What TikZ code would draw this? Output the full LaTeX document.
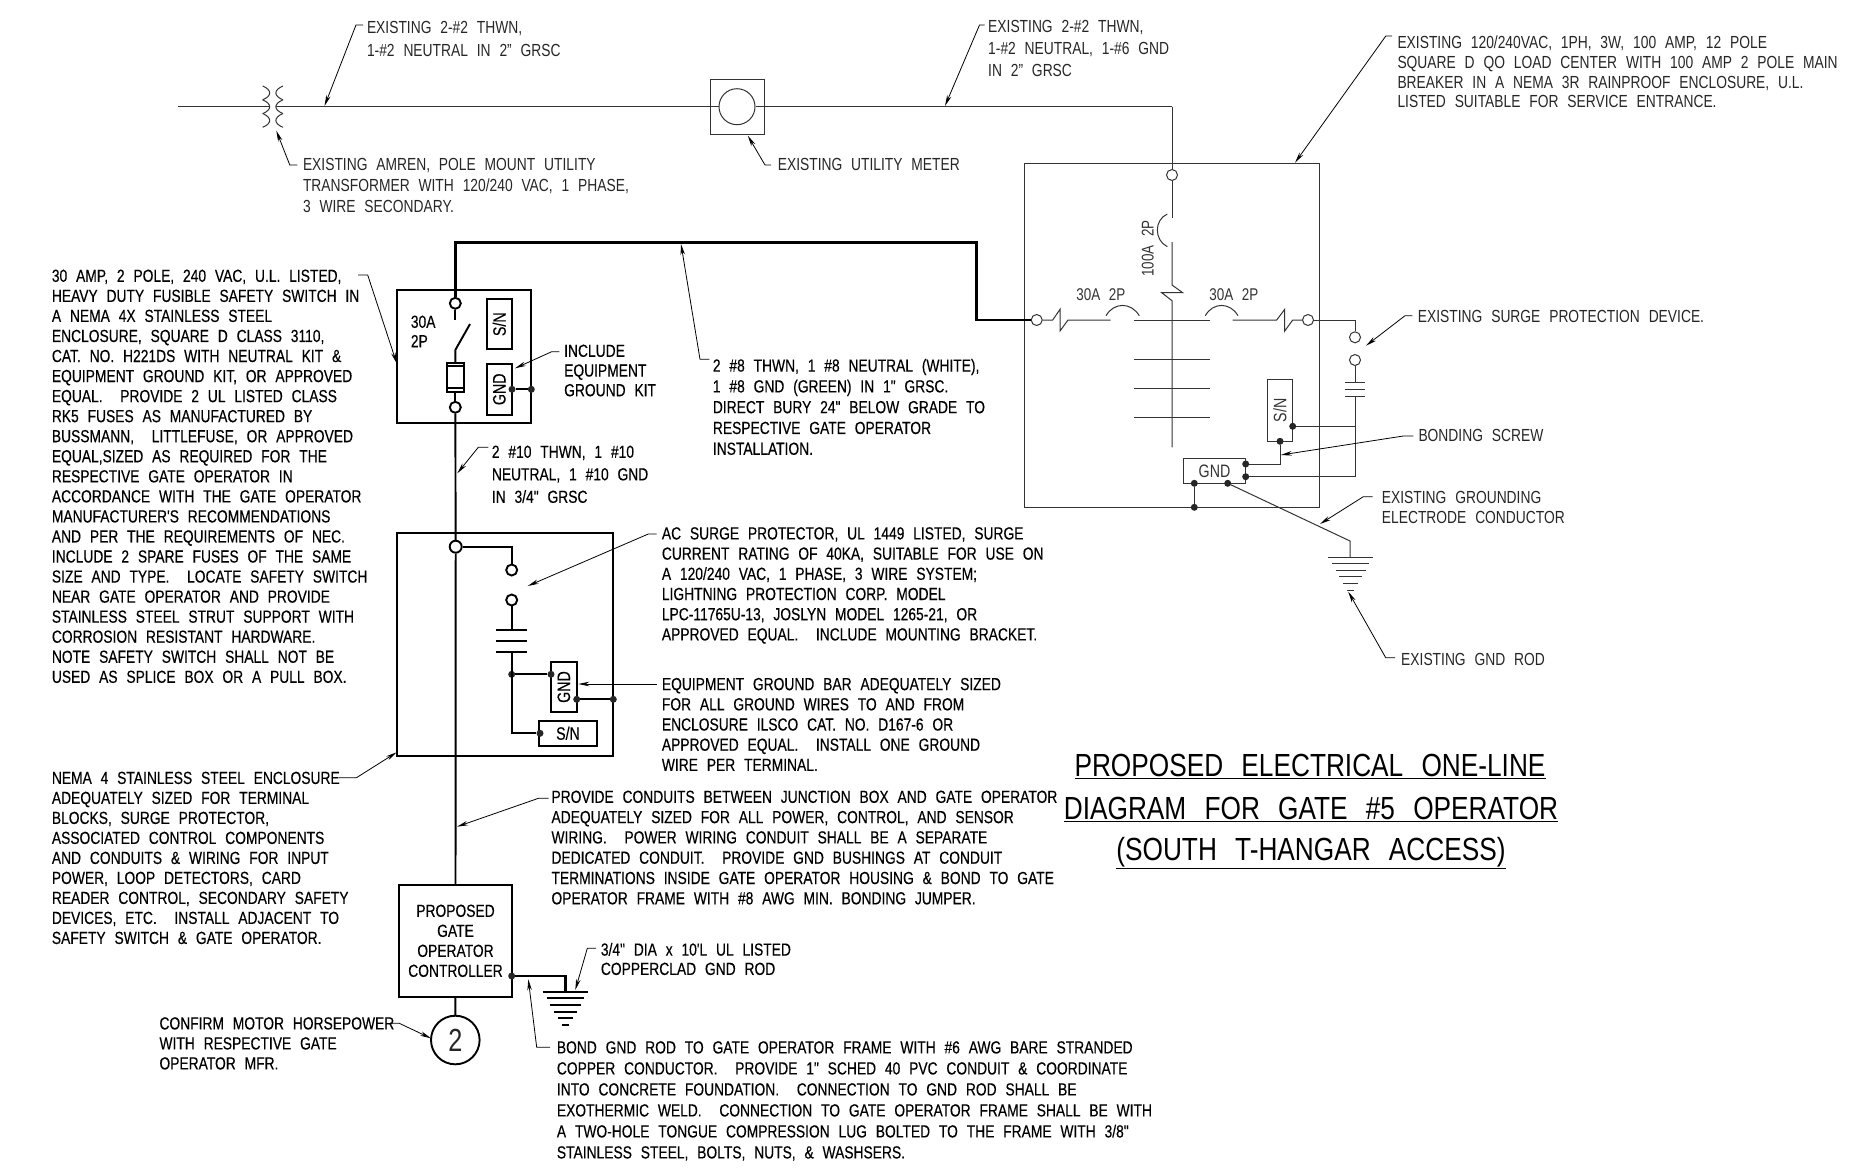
\documentclass[tikz,border=0pt]{standalone}
\usepackage{fontspec}
\setmainfont{Liberation Sans}[FakeStretch=0.79,WordSpace=2.3]
\newfontfamily\heavyfont{Liberation Sans}[FakeStretch=0.79,WordSpace=2.3,FakeBold=0.3]
\newfontfamily\titlefont{Liberation Sans}[FakeStretch=0.82,WordSpace=2.5]
\usetikzlibrary{arrows.meta}
\usetikzlibrary{calc}
\usetikzlibrary{positioning}

\begin{document}
\begin{tikzpicture}[x=1pt,y=-1pt,line join=miter]
 	  \tikzstyle{note}[20.2]=[anchor=north west,inner sep=0pt,align=left,font=\heavyfont\fontsize{17.5}{#1}\selectfont]
 	  \tikzstyle{thinnote}[20.2]=[anchor=north west,inner sep=0pt,align=left,text=black!85,font=\fontsize{17.5}{#1}\selectfont]
 	  \tikzstyle{lead}=[line width=.8pt,-{Stealth[length=11pt,width=4.5pt]}]
 	  \tikzstyle{wire}=[line width=1.9pt]
 	  \tikzstyle{fine}=[line width=1pt,draw=black!80]
 	  \tikzstyle{power}=[line width=2.8pt]
 	  \tikzstyle{term}=[draw,circle,inner sep=0pt,minimum size=11pt,fill=white]
 	  \tikzstyle{dot}=[circle,inner sep=0pt,minimum size=7pt,fill=black!85]
 	  \tikzstyle{bar}=[draw,inner sep=0pt,font=\fontsize{18}{20}\selectfont]
 	  \tikzstyle{heavybar}=[draw,inner sep=0pt,line width=1.9pt,font=\heavyfont\fontsize{18}{20}\selectfont]
\useasboundingbox (0,0) rectangle (1862,1173);

% service entrance
\foreach \y in {86,99.8,113.5}{
    \draw[fine] (262.7,\y) .. controls (272,\y+4) and (272,\y+10) .. (262.7,\y+13.8);
    \draw[fine] (283,\y) .. controls (273.5,\y+4) and (273.5,\y+10) .. (283,\y+13.8);
      }
\coordinate (src) at (178,106.7);
\coordinate (xf_l) at (269,106.7);
\coordinate (xf_r) at (276,106.7);
\coordinate (bus_c) at (1172,106.7);
\node[draw,fine,minimum width=54pt,minimum height=54.7pt,inner sep=0pt] (meter) at (737,106.7) {};
\node[draw,fine,circle,minimum size=36pt,inner sep=0pt] (meter_c) at (737,106.7) {};
\draw[fine,line width=1.4pt] (src) -- (xf_l);
\draw[fine,line width=1.4pt] (xf_r) -- (meter_c);
\draw[fine,line width=1.4pt] (meter_c) -- (bus_c);

% load center
\node[draw,fine,minimum width=295.4pt,minimum height=344pt,inner sep=0pt] (panel) at (1172,335.3) {};
\node[term,fine] (main_t) at (1172,175) {};
\node[term,fine] (feed_l) at (1036.7,320) {};
\node[term,fine] (feed_r) at (1308,320) {};
\node[term,fine] (spd_a) at (1355,337.3) {};
\node[term,fine] (spd_b) at (1355,360) {};
\coordinate (spd_c) at (1355,320);
\coordinate (spd_p) at (1355,382.3);
\coordinate (spd_q) at (1355,396.3);
\coordinate (spd_j) at (1355,426.3);
\coordinate (spd_e) at (1355,476.7);
\draw[fine] (bus_c) -- (main_t);
\draw[fine] (main_t) -- (1172,218);
\draw[fine] (1167.3,214) .. controls (1154,220) and (1154,240) .. (1167.3,246.7);
\draw[fine] (1172,242) -- (1172,285) -- (1182.7,292.7) -- (1161.7,292.7) -- (1172,300.7) -- (1172,447.3);
\draw[fine] (feed_l) -- (1052.7,320) -- (1060,309.3) -- (1060,331) -- (1068,320) -- (1110.7,320);
\draw[fine] (1106,315.7) .. controls (1114,302) and (1131,302) .. (1139.3,315.7);
\draw[fine] (1134,320) -- (1210,320);
\draw[fine] (1205.3,315.7) .. controls (1213,302) and (1230,302) .. (1238,315.7);
\draw[fine] (1232.7,320) -- (1276.7,320) -- (1284.7,309.3) -- (1284.7,331) -- (1292.7,320) -- (feed_r);
\foreach \y in {359.3,388.7,417.7}{
    \draw[fine] (1134,\y) -- (1210,\y);
      }
\draw[fine] (feed_r) -- (spd_c) -- (spd_a);
\draw[fine] (spd_b) -- (spd_p);
\foreach \y in {382.3,389.3,396.3}{
    \draw[fine] (1345,\y) -- (1365,\y);
      }
\node[bar,fine,text=black!80,rotate=90,minimum width=62pt,minimum height=25.4pt] (sn_p) at (1280,410.3) {S/N};
\node[bar,fine,text=black!80,minimum width=62.4pt,minimum height=25pt] (gnd_p) at (1214.5,470.8) {GND};
\node[dot] (d_a) at (1292.7,426.3) {};
\node[dot] (d_b) at (1280,441.3) {};
\node[dot] (d_c) at (1245.7,464) {};
\node[dot] (d_d) at (1245.7,476.7) {};
\node[dot] (d_e) at (1194.3,483.3) {};
\node[dot] (d_f) at (1194.3,507.3) {};
\node[dot] (d_g) at (1227.7,483.3) {};
\coordinate (d_h) at (1280,464);
\coordinate (rod_c) at (1350,541);
\coordinate (rod_t) at (1350,557.3);
\draw[fine] (spd_q) -- (spd_e) -- (d_d);
\draw[fine] (d_a) -- (spd_j);
\draw[fine] (d_b) -- (d_h) -- (d_c);
\draw[fine] (d_e) -- (d_f);
\draw[fine] (d_g) -- (rod_c) -- (rod_t);
\foreach \y/\w in {557.3/22.2,563.7/18.5,570.3/15,576.7/11.2,583.3/7.5,590/3.7}{
    \draw[fine] (1350.5-\w,\y) -- (1350.5+\w,\y);
      }
\node[font=\fontsize{17}{20}\selectfont,text=black!80,inner sep=0pt] (lbl_l) at (1100.8,294.4) {30A\ 2P};
\node[font=\fontsize{17}{20}\selectfont,text=black!80,inner sep=0pt] (lbl_r) at (1233.8,294.4) {30A\ 2P};
\node[font=\fontsize{17}{20}\selectfont,text=black!80,inner sep=0pt,rotate=90] (lbl_m) at (1147.7,248.3) {100A\ 2P};

% feeder and safety switch
\node[draw,wire,minimum width=134pt,minimum height=133.3pt,inner sep=0pt] (sw) at (464.3,356.7) {};
\node[term,wire] (sw_a) at (455.3,303.3) {};
\node[term,wire] (sw_b) at (455.3,407.3) {};
\coordinate (sw_c) at (455.3,320);
\coordinate (sw_d) at (455.3,350);
\coordinate (sw_e) at (470,324);
\node[draw,wire,minimum width=17.3pt,minimum height=29pt,inner sep=0pt] (fuse) at (455.3,377.2) {};
\draw[power] (feed_l) -- (976.7,320) -- (976.7,242.7) -- (455.3,242.7) -- (sw_a);
\draw[wire] (sw_a) -- (sw_c);
\draw[wire] (sw_e) -- (sw_d) -- (fuse);
\draw[wire] (fuse) -- (sw_b);
\draw[wire] (446.7,366.4) -- (464,366.4);
\draw[wire] (446.7,387.6) -- (464,387.6);
\node[heavybar,rotate=90,minimum width=50.3pt,minimum height=25.3pt] (sn_s) at (499.3,324.2) {S/N};
\node[heavybar,rotate=90,minimum width=50.7pt,minimum height=25.3pt] (gnd_s) at (499.3,389.3) {GND};
\node[dot] (d_s1) at (512,389.3) {};
\node[dot] (d_s2) at (531.3,389.3) {};
\draw[wire] (d_s1) -- (d_s2);
\node[note=19.4] (sw_lbl) at (410.7,315.4) {30A\\2P};

% enclosure
\node[draw,wire,minimum width=216pt,minimum height=223pt,inner sep=0pt] (enc) at (505.3,644.2) {};
\node[term,wire,minimum size=12pt] (enc_j) at (455.7,546.7) {};
\node[term,wire] (enc_a) at (511.7,570) {};
\node[term,wire] (enc_b) at (511.7,600) {};
\coordinate (enc_c) at (511.7,546.7);
\coordinate (enc_p) at (511.7,630);
\coordinate (enc_q) at (511.7,651.7);
\coordinate (enc_r) at (511.7,733.3);
\draw[wire] (sw_b) -- (enc_j);
\draw[wire] (enc_j) -- (enc_c) -- (enc_a);
\draw[wire] (enc_b) -- (enc_p);
\draw[wire] (496,630) -- (527.3,630);
\draw[wire] (496,640.7) -- (527.3,640.7);
\draw[wire] (496,651.7) -- (527.3,651.7);
\node[heavybar,rotate=90,minimum width=50.6pt,minimum height=25.7pt] (gnd_e) at (563.8,687) {GND};
\node[heavybar,minimum width=57.4pt,minimum height=25.3pt] (sn_e) at (568,733.3) {S/N};
\node[dot] (d_e1) at (511.7,674.3) {};
\node[dot] (d_e2) at (551,674.3) {};
\node[dot] (d_e3) at (576.7,699.3) {};
\node[dot] (d_e4) at (613.3,699.3) {};
\node[dot] (d_e5) at (540,733.3) {};
\draw[wire] (enc_q) -- (enc_r) -- (d_e5);
\draw[wire] (d_e1) -- (d_e2);
\draw[wire] (d_e3) -- (d_e4);

% gate operator
\node[draw,wire,align=center,minimum width=112.4pt,minimum height=111.7pt,inner sep=0pt,font=\heavyfont\fontsize{17.5}{20}\selectfont] (ctl) at (455.5,940.8) {PROPOSED\\GATE\\OPERATOR\\CONTROLLER};
\node[draw,wire,circle,minimum size=48.6pt,inner sep=0pt,text=black!85,font=\fontsize{32}{32}\selectfont] (motor) at (455.3,1040) {2};
\node[dot] (d_o) at (511.7,976) {};
\coordinate (gr_c) at (565.7,976);
\coordinate (gr_t) at (565.7,992);
\draw[wire] (enc_j) -- (ctl);
\draw[wire] (ctl) -- (motor);
\draw[power] (d_o) -- (gr_c) -- (gr_t);
\foreach \y/\w in {992/22.8,998.3/18.7,1005.3/15.4,1011.7/11.4,1018.3/7.4,1024.7/3.8}{
    \draw[wire] (565.5-\w,\y) -- (565.5+\w,\y);
      }

% notes
\node[thinnote=22.7] (n_ex_a) at (366.8,21) {EXISTING 2-\#2 THWN,\\1-\#2 NEUTRAL IN 2" GRSC};
\node[thinnote=22] (n_ex_b) at (988,19.8) {EXISTING 2-\#2 THWN,\\1-\#2 NEUTRAL, 1-\#6 GND\\IN 2" GRSC};
\node[thinnote=21.4] (n_amren) at (302.8,157.7) {EXISTING AMREN, POLE MOUNT UTILITY\\TRANSFORMER WITH 120/240 VAC, 1 PHASE,\\3 WIRE SECONDARY.};
\node[thinnote] (n_meter) at (777.6,157.7) {EXISTING UTILITY METER};
\node[thinnote=19.9] (n_panel) at (1397.3,35.4) {EXISTING 120/240VAC, 1PH, 3W, 100 AMP, 12 POLE\\SQUARE D QO LOAD CENTER WITH 100 AMP 2 POLE MAIN\\BREAKER IN A NEMA 3R RAINPROOF ENCLOSURE, U.L.\\LISTED SUITABLE FOR SERVICE ENTRANCE.};
\node[thinnote] (n_spd) at (1417.7,310.4) {EXISTING SURGE PROTECTION DEVICE.};
\node[thinnote] (n_bond) at (1418.3,428.7) {BONDING SCREW};
\node[thinnote=20] (n_gec) at (1381.7,491) {EXISTING GROUNDING\\ELECTRODE CONDUCTOR};
\node[thinnote] (n_rod) at (1401,652.7) {EXISTING GND ROD};
\node[note=20.05] (n_safety) at (51.7,269.4) {30 AMP, 2 POLE, 240 VAC, U.L. LISTED,\\HEAVY DUTY FUSIBLE SAFETY SWITCH IN\\A NEMA 4X STAINLESS STEEL\\ENCLOSURE, SQUARE D CLASS 3110,\\CAT. NO. H221DS WITH NEUTRAL KIT \&\\EQUIPMENT GROUND KIT, OR APPROVED\\EQUAL.\ \ PROVIDE 2 UL LISTED CLASS\\RK5 FUSES AS MANUFACTURED BY\\BUSSMANN,\ \ LITTLEFUSE, OR APPROVED\\EQUAL,SIZED AS REQUIRED FOR THE\\RESPECTIVE GATE OPERATOR IN\\ACCORDANCE WITH THE GATE OPERATOR\\MANUFACTURER'S RECOMMENDATIONS\\AND PER THE REQUIREMENTS OF NEC.\\INCLUDE 2 SPARE FUSES OF THE SAME\\SIZE AND TYPE.\ \ LOCATE SAFETY SWITCH\\NEAR GATE OPERATOR AND PROVIDE\\STAINLESS STEEL STRUT SUPPORT WITH\\CORROSION RESISTANT HARDWARE.\\NOTE SAFETY SWITCH SHALL NOT BE\\USED AS SPLICE BOX OR A PULL BOX.};
\node[note=19.7] (n_kit) at (564,344.4) {INCLUDE\\EQUIPMENT\\GROUND KIT};
\node[note=22.5] (n_ten) at (491.7,445.4) {2 \#10 THWN, 1 \#10\\NEUTRAL, 1 \#10 GND\\IN 3/4" GRSC};
\node[note=20.8] (n_eight) at (712.7,358.7) {2 \#8 THWN, 1 \#8 NEUTRAL (WHITE),\\1 \#8 GND (GREEN) IN 1" GRSC.\\DIRECT BURY 24" BELOW GRADE TO\\RESPECTIVE GATE OPERATOR\\INSTALLATION.};
\node[note] (n_ac) at (661.7,527) {AC SURGE PROTECTOR, UL 1449 LISTED, SURGE\\CURRENT RATING OF 40KA, SUITABLE FOR USE ON\\A 120/240 VAC, 1 PHASE, 3 WIRE SYSTEM;\\LIGHTNING PROTECTION CORP. MODEL\\LPC-11765U-13, JOSLYN MODEL 1265-21, OR\\APPROVED EQUAL.\ \ INCLUDE MOUNTING BRACKET.};
\node[note] (n_bar) at (661.7,677.7) {EQUIPMENT GROUND BAR ADEQUATELY SIZED\\FOR ALL GROUND WIRES TO AND FROM\\ENCLOSURE ILSCO CAT. NO. D167-6 OR\\APPROVED EQUAL.\ \ INSTALL ONE GROUND\\WIRE PER TERMINAL.};
\node[note=20] (n_nema) at (51.7,771.5) {NEMA 4 STAINLESS STEEL ENCLOSURE\\ADEQUATELY SIZED FOR TERMINAL\\BLOCKS, SURGE PROTECTOR,\\ASSOCIATED CONTROL COMPONENTS\\AND CONDUITS \& WIRING FOR INPUT\\POWER, LOOP DETECTORS, CARD\\READER CONTROL, SECONDARY SAFETY\\DEVICES, ETC.\ \ INSTALL ADJACENT TO\\SAFETY SWITCH \& GATE OPERATOR.};
\node[note=20.3] (n_cond) at (551.3,790.4) {PROVIDE CONDUITS BETWEEN JUNCTION BOX AND GATE OPERATOR\\ADEQUATELY SIZED FOR ALL POWER, CONTROL, AND SENSOR\\WIRING.\ \ POWER WIRING CONDUIT SHALL BE A SEPARATE\\DEDICATED CONDUIT.\ \ PROVIDE GND BUSHINGS AT CONDUIT\\TERMINATIONS INSIDE GATE OPERATOR HOUSING \& BOND TO GATE\\OPERATOR FRAME WITH \#8 AWG MIN. BONDING JUMPER.};
\node[note=19.3] (n_dia) at (600.7,942.7) {3/4" DIA x 10'L UL LISTED\\COPPERCLAD GND ROD};
\node[note=21] (n_frame) at (556.7,1041) {BOND GND ROD TO GATE OPERATOR FRAME WITH \#6 AWG BARE STRANDED\\COPPER CONDUCTOR.\ \ PROVIDE 1" SCHED 40 PVC CONDUIT \& COORDINATE\\INTO CONCRETE FOUNDATION.\ \ CONNECTION TO GND ROD SHALL BE\\EXOTHERMIC WELD.\ \ CONNECTION TO GATE OPERATOR FRAME SHALL BE WITH\\A TWO-HOLE TONGUE COMPRESSION LUG BOLTED TO THE FRAME WITH 3/8"\\STAINLESS STEEL, BOLTS, NUTS, \& WASHSERS.};
\node[note=20] (n_hp) at (159.3,1017) {CONFIRM MOTOR HORSEPOWER\\WITH RESPECTIVE GATE\\OPERATOR MFR.};

% leaders: name / stub x / corner x / corner y / tip x / tip y
\foreach \n/\sx/\cx/\cy/\tx/\ty in {
    ex_a/363/356/25/324.5/106, ex_b/984.5/979.5/25/945/106,
    amren/297.4/289.8/165/276.3/130.7, meter/771/765/165/747.8/135.7,
    panel/1392/1385.8/36/1295/162.7, spd/1412.3/1405/315.7/1366/345.7,
    bond/1413.3/1403.3/436/1280.7/455, gec/1372.7/1363.3/496.7/1320/524,
    rod/1395/1385.7/657.7/1348.3/591.7, safety/358/367.7/275/396.7/363.3,
    kit/559.3/551.7/351.7/515/368.3, ten/488.3/478.3/447.3/457.3/473.3,
    eight/709.3/700/359.3/681/244, ac/656.7/648.3/534/527.7/586,
    bar/656.7/600/684/578.3/684, nema/339/356.3/777.8/396.7/752.3,
    cond/548.5/538.4/798.3/457/826.7, dia/596/587.3/948.3/575.3/990,
    frame/550/536.7/1047.3/528.3/979.3, hp/390/399.3/1023.3/431/1038.3}{
    \coordinate (\n_s) at (\sx,\cy);
    \coordinate (\n_c) at (\cx,\cy);
    \coordinate (\n_t) at (\tx,\ty);
    \draw[lead] (\n_s) -- (\n_c) -- (\n_t);
      }

% title
\node[inner sep=0pt,font=\titlefont\fontsize{32}{42}\selectfont] (title_a) at (1310,766) {\underline{PROPOSED ELECTRICAL ONE-LINE}};
\node[inner sep=0pt,font=\titlefont\fontsize{32}{42}\selectfont] (title_b) at (1311,809) {\underline{DIAGRAM FOR GATE \#5 OPERATOR}};
\node[inner sep=0pt,font=\titlefont\fontsize{32}{42}\selectfont] (title_c) at (1311,853) {\underline{(SOUTH T-HANGAR ACCESS)}};
   \end{tikzpicture}
\end{document}
